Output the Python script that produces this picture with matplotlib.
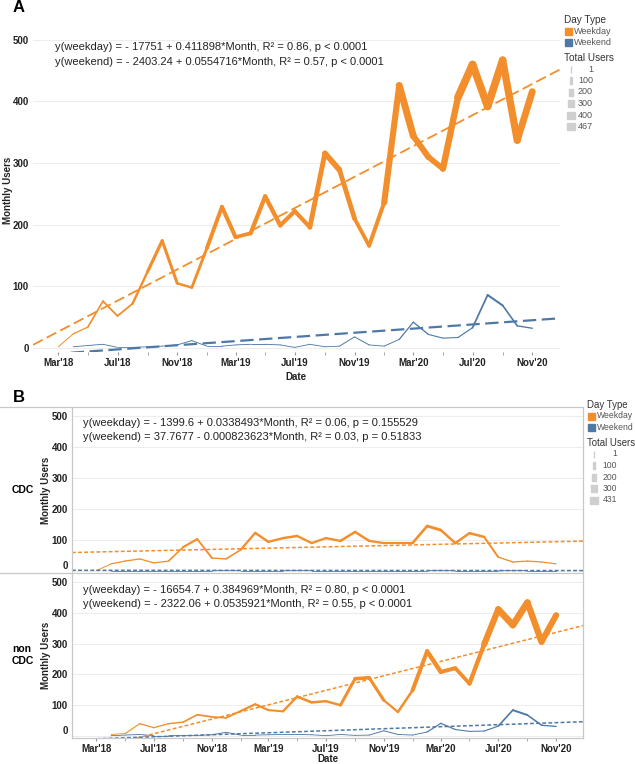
import numpy as np
import pandas as pd
import matplotlib
matplotlib.use("Agg")
import matplotlib.pyplot as plt
import matplotlib.dates as mdates
from matplotlib.collections import LineCollection
from matplotlib.patches import Rectangle

plt.rcParams['font.family'] = ['Liberation Sans', 'DejaVu Sans']

# months Mar'18 .. Nov'20
months = pd.date_range('2018-03-01', periods=33, freq='MS')

# panel A: all users
a_weekday = [2, 23, 34, 76, 52, 72, 124, 174, 105, 98, 162, 229, 180, 186, 246, 199, 222, 196,
             316, 289, 210, 166, 236, 426, 344, 310, 291, 407, 460, 392, 467, 337, 416]
a_weekend = [np.nan, 2, 4, 6, 1, 1, 2, 3, 5, 12, 3, 3, 5, 6, 6, 5, 1, 6,
             2, 3, 18, 5, 3, 14, 42, 22, 16, 17, 33, 86, 69, 36, 32]

# panel B: CDC / non CDC
cdc_weekday = [1, 23, 32, 39, 26, 32, 77, 103, 42, 39, 68, 123, 94, 106, 113, 90, 106, 97,
               126, 97, 90, 90, 90, 145, 132, 90, 122, 110, 45, 29, 32, 29, 23]
cdc_weekend = [np.nan, 1, 1, 1, 1, 1, 1, 1, 1, 2, 1, 1, 1, 1, 2, 1, 1, 1,
               1, 1, 1, 1, 1, 1, 2, 1, 1, 1, 1, 2, 1, 1, 1]
non_weekday = [np.nan, 5, 8, 40, 27, 40, 45, 69, 62, 59, 81, 103, 84, 80, 128, 109, 113, 100,
               186, 189, 116, 78, 148, 275, 208, 220, 170, 297, 411, 360, 433, 306, 392]
non_weekend = [np.nan, 1, 3, 5, 1, 1, 2, 2, 4, 12, 3, 3, 4, 5, 5, 4, 1, 5,
               2, 3, 17, 5, 3, 13, 41, 21, 15, 16, 32, 84, 68, 35, 31]

# trend coefficients (intercept, slope per day of date serial)
trend_a = {'weekday': (-17751, 0.411898), 'weekend': (-2403.24, 0.0554716)}
trend_cdc = {'weekday': (-1399.6, 0.0338493), 'weekend': (37.7677, -0.000823623)}
trend_non = {'weekday': (-16654.7, 0.384969), 'weekend': (-2322.06, 0.0535921)}

eq_a = ["y(weekday) = - 17751 + 0.411898*Month, R² = 0.86, p < 0.0001",
        "y(weekend) = - 2403.24 + 0.0554716*Month, R² = 0.57, p < 0.0001"]
eq_cdc = ["y(weekday) = - 1399.6 + 0.0338493*Month, R² = 0.06, p = 0.155529",
          "y(weekend) = 37.7677 - 0.000823623*Month, R² = 0.03, p = 0.51833"]
eq_non = ["y(weekday) = - 16654.7 + 0.384969*Month, R² = 0.80, p < 0.0001",
          "y(weekend) = - 2322.06 + 0.0535921*Month, R² = 0.55, p < 0.0001"]

size_a = [1, 100, 200, 300, 400, 467]
size_b = [1, 100, 200, 300, 431]

ORANGE = '#F28E2B'
BLUE = '#4E79A7'
W, H = 635, 764
XL = (pd.Timestamp('2018-01-08'), pd.Timestamp('2020-12-28'))
YL = (-6.5, 529)

fig = plt.figure(figsize=(W / 100, H / 100), dpi=100)


def box(l, t, r, b):
    return [l / W, 1 - b / H, (r - l) / W, (b - t) / H]


def serial(d):
    return (pd.to_datetime(d) - pd.Timestamp('1899-12-30')).days


def var_line(ax, vals, color, vmax, wmax=7.5):
    x = mdates.date2num(months.to_pydatetime())
    v = np.array(vals, dtype=float)
    segs, ws = [], []
    for i in range(len(v) - 1):
        if np.isnan(v[i]) or np.isnan(v[i + 1]):
            continue
        segs.append([(x[i], v[i]), (x[i + 1], v[i + 1])])
        ws.append((0.8 + wmax * (v[i] + v[i + 1]) / 2 / vmax) * 0.72)
    lc = LineCollection(segs, linewidths=ws, colors=color, capstyle='round', joinstyle='round', zorder=3)
    ax.add_collection(lc)


def trend(ax, coef, color, dashes, lw):
    xs = pd.to_datetime(list(XL))
    ys = [coef[0] + coef[1] * serial(d) for d in xs]
    ax.plot(xs, ys, color=color, lw=lw, dashes=dashes, zorder=4)


def style(ax, labels_x=True):
    ax.set_xlim(*XL)
    ax.set_ylim(*YL)
    ax.set_facecolor('none')
    for s in ax.spines.values():
        s.set_visible(False)
    ax.set_yticks([0, 100, 200, 300, 400, 500])
    ax.grid(axis='y', color='#ededed', lw=0.8, zorder=0)
    ax.xaxis.set_major_locator(mdates.MonthLocator(bymonth=(3, 7, 11)))
    ax.xaxis.set_minor_locator(mdates.MonthLocator(bymonth=(1, 5, 9)))
    ax.xaxis.set_major_formatter(mdates.DateFormatter("%b'%y"))
    ax.tick_params(axis='y', length=0, labelsize=7, pad=3, labelcolor='#222')
    ax.tick_params(axis='x', which='both', length=2.5, color='#999', labelsize=7, pad=2, labelcolor='#222')
    for lab in ax.get_xticklabels() + ax.get_yticklabels():
        lab.set_fontweight('bold')
    if not labels_x:
        ax.tick_params(axis='x', which='both', length=0, labelbottom=False)


# ---------- panel A ----------
axA = fig.add_axes(box(33, 22, 560, 352))
var_line(axA, a_weekday, ORANGE, 467)
var_line(axA, a_weekend, BLUE, 467)
trend(axA, trend_a['weekday'], ORANGE, (6, 2.5), 1.3)
trend(axA, trend_a['weekend'], BLUE, (6, 2.5), 1.6)
style(axA)

# ---------- panel B ----------
axC = fig.add_axes(box(72, 407, 583, 573))
var_line(axC, cdc_weekday, ORANGE, 431, 6.5)
var_line(axC, cdc_weekend, BLUE, 431, 6.5)
trend(axC, trend_cdc['weekday'], ORANGE, (2.5, 1.5), 1.1)
trend(axC, trend_cdc['weekend'], BLUE, (2.5, 1.5), 1.1)
style(axC, labels_x=False)
axC.get_yticklabels()[0].set_va('bottom')

axN = fig.add_axes(box(72, 573, 583, 738))
var_line(axN, non_weekday, ORANGE, 431, 6.5)
var_line(axN, non_weekend, BLUE, 431, 6.5)
trend(axN, trend_non['weekday'], ORANGE, (2.5, 1.5), 1.1)
trend(axN, trend_non['weekend'], BLUE, (2.5, 1.5), 1.1)
style(axN)
axN.get_yticklabels()[0].set_va('bottom')

# ---------- overlay in pixel coords ----------
ov = fig.add_axes([0, 0, 1, 1])
ov.set_xlim(0, W)
ov.set_ylim(H, 0)
ov.axis('off')

ov.text(13, 7, 'A', fontsize=12, fontweight='bold', va='center')
ov.text(13, 398, 'B', fontsize=12, fontweight='bold', va='center')

# axis titles
lab = dict(fontsize=7, fontweight='bold', color='#222', ha='center', va='center')
ov.text(8, 190, 'Monthly Users', rotation=90, **lab)
ov.text(296, 377, 'Date', **lab)
ov.text(46, 490, 'Monthly Users', rotation=90, **lab)
ov.text(46, 655, 'Monthly Users', rotation=90, **lab)
ov.text(328, 759, 'Date', **lab)

for i, s in enumerate(eq_a):
    ov.text(55, 47 + i * 15, s, fontsize=8, color='#222', va='center')
for i, s in enumerate(eq_cdc):
    ov.text(83, 423 + i * 14, s, fontsize=8, color='#222', va='center')
for i, s in enumerate(eq_non):
    ov.text(83, 590 + i * 14, s, fontsize=8, color='#222', va='center')

ov.text(12, 490, 'CDC', fontsize=7.5, fontweight='bold', va='center')
ov.text(12, 655, 'non\nCDC', fontsize=7.5, fontweight='bold', va='center', linespacing=1.2)

# panel B frame
fc = '#c8c8c8'
ov.plot([0, 583], [407, 407], color=fc, lw=0.9)
ov.plot([0, 583], [573, 573], color=fc, lw=0.9)
ov.plot([72, 583], [738, 738], color=fc, lw=0.9)
ov.plot([72, 72], [407, 738], color=fc, lw=0.9)
ov.plot([583, 583], [407, 738], color=fc, lw=0.9)


def legend(x0, y0, sizes, vmax, num_right, fs_t=7.2, fs_e=6.5):
    ov.text(x0, y0, 'Day Type', fontsize=fs_t, color='#333', va='center')
    for j, (name, c) in enumerate([('Weekday', ORANGE), ('Weekend', BLUE)]):
        yy = y0 + 11 + j * 11.5
        ov.add_patch(Rectangle((x0 + 1, yy - 3.5), 7, 7, color=c))
        ov.text(x0 + 10, yy, name, fontsize=fs_e, color='#555', va='center')
    yt = y0 + 38
    ov.text(x0, yt, 'Total Users', fontsize=fs_t, color='#333', va='center')
    for j, s in enumerate(sizes):
        yy = yt + 11 + j * 11.5
        w = 0.7 + 7.5 * s / vmax
        ov.add_patch(Rectangle((x0 + 7 - w / 2, yy - 3.5), w, 7, color='#cfcfcf'))
        ov.text(num_right, yy, str(s), fontsize=fs_e, color='#555', va='center', ha='right')


legend(564, 20, size_a, 467, 593)
legend(587, 405, size_b, 431, 617, fs_t=6.9, fs_e=6.2)

fig.savefig('out.png', dpi=100)
